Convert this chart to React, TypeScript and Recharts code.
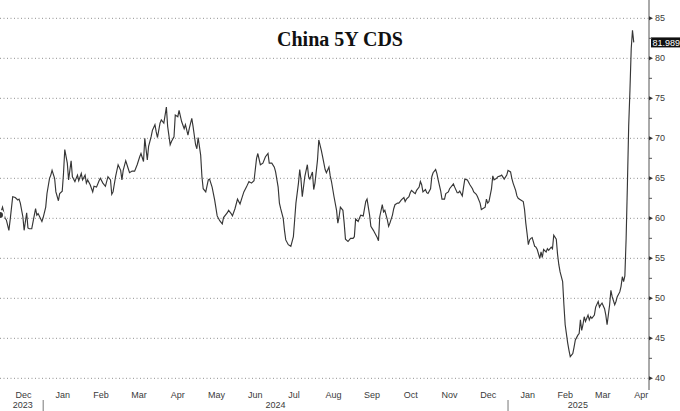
import React from "react";
import { LineChart, Line, XAxis, YAxis, CartesianGrid, ReferenceLine } from "recharts";

// days since 1 Jan 2024 (roughly one point per trading day)
const days = [
  // Dec 2023
  -34, -32, -30, -29, -27, -26, -24, -22, -20, -19, -18, -16, -15, -13, -12, -11, -9, -6, -5, -4, -1,
  // Jan 2024
  0, 2, 3, 5, 6, 7, 9, 10, 12, 13, 15, 16, 17, 19, 20, 22, 23, 25, 27, 28, 30,
  // Feb
  31, 33, 34, 35, 37, 39, 40, 42, 44, 45, 47, 49, 51, 53, 54, 55, 57, 59,
  // Mar
  61, 62, 63, 65, 67, 68, 70, 72, 74, 76, 77, 79, 80, 82, 83, 85, 86, 88, 89, 90,
  // Apr
  92, 93, 95, 97, 98, 100, 101, 103, 104, 106, 107, 109, 111, 112, 114, 115, 117, 118, 120,
  // May
  121, 122, 124, 125, 126, 128, 130, 131, 133, 135, 137, 139, 141, 142, 145, 146, 148, 149, 151,
  // Jun
  153, 155, 156, 158, 160, 162, 164, 166, 168, 169, 171, 173, 175, 177, 178, 180,
  // Jul
  182, 183, 185, 186, 187, 189, 190, 191, 193, 195, 197, 198, 199, 201, 202, 203, 204, 206, 208, 209, 210, 212,
  // Aug
  213, 214, 216, 217, 219, 220, 222, 223, 225, 226, 227, 229, 231, 232, 233, 234, 236, 237, 238, 240, 242,
  // Sep
  244, 245, 246, 248, 249, 250, 252, 253, 254, 255, 257, 258, 260, 261, 263, 264, 265, 267, 268, 269, 271, 272, 273,
  // Oct
  275, 276, 277, 279, 280, 281, 282, 284, 285, 286, 288, 289, 290, 292, 293, 294, 296, 297, 298, 299, 301, 302, 303,
  // Nov
  305, 306, 307, 309, 310, 311, 313, 314, 316, 317, 319, 320, 323, 324, 326, 327, 328, 330, 331, 332, 334,
  // Dec
  336, 338, 339, 341, 342, 344, 345, 346, 348, 349, 350, 351, 353, 354, 355, 357, 358, 360, 361, 363, 365,
  // Jan 2025
  366, 368, 369, 370, 372, 373, 374, 376, 378, 379, 380, 381, 382, 383, 384, 385, 387, 388, 389, 391, 392, 393, 394, 396,
  // Feb
  397, 398, 400, 401, 402, 404, 405, 406, 407, 409, 410, 411, 413, 414, 415, 417, 418, 419, 421, 422, 423, 424,
  // Mar
  425, 426, 427, 429, 430, 431, 432, 434, 435, 437, 438, 439, 440, 442, 443, 444, 446, 447, 448, 450, 451, 452, 454, 455,
  // Apr
  456, 457, 458, 459, 460, 461, 462, 463, 464, 465,
];

const cds = [
  60.4, 61.4, 60.0, 59.8, 58.5, 59.8, 62.7, 62.6, 62.3, 62.4, 61.9, 60.2, 58.5, 60.7, 58.8, 58.7, 58.7, 61.2, 60.4, 60.6, 59.6,
  60.1, 61.4, 63.1, 65.0, 65.4, 66.0, 65.0, 63.3, 62.2, 63.1, 63.4, 65.6, 68.6, 66.9, 64.8, 67.2, 65.2, 64.6, 65.4, 64.7, 65.6,
  64.8, 65.4, 64.4, 64.8, 64.2, 63.3, 64.0, 63.9, 64.7, 65.0, 64.4, 64.0, 65.2, 64.8, 63.0, 63.3, 65.2, 66.7,
  66.0, 64.8, 66.0, 67.2, 66.2, 65.7, 65.9, 65.9, 66.7, 67.7, 68.1, 67.1, 70.0, 67.3, 69.0, 70.2, 71.0, 71.7, 70.8, 70.1,
  71.9, 72.3, 71.9, 73.9, 71.5, 69.2, 69.6, 70.2, 72.9, 72.7, 73.5, 72.1, 71.2, 71.7, 70.4, 71.2, 72.5, 71.5, 69.2,
  68.7, 70.1, 67.9, 65.2, 63.7, 63.3, 64.8, 64.9, 63.9, 62.3, 60.3, 59.7, 59.3, 60.1, 60.7, 61.0, 60.6, 60.3, 61.2,
  62.4, 61.8, 62.3, 63.3, 63.9, 64.6, 64.4, 64.7, 67.5, 68.1, 66.7, 66.9, 67.7, 68.1, 66.9, 66.9,
  66.4, 65.8, 63.9, 61.9, 61.2, 60.0, 58.5, 57.3, 56.7, 56.5, 57.7, 59.8, 61.9, 64.4, 66.1, 64.8, 62.7, 65.2, 66.7, 65.2, 64.9, 65.8,
  63.6, 64.4, 67.3, 69.8, 68.5, 67.7, 66.1, 65.7, 66.4, 65.3, 64.6, 62.7, 61.0, 59.4, 60.2, 61.4, 61.0, 59.4, 57.4, 57.1, 57.5,
  57.5, 57.7, 59.9, 59.6, 60.0, 60.4, 60.3, 61.2, 62.1, 62.4, 60.4, 59.0, 58.5, 58.2, 57.6, 57.2, 60.2, 61.7, 60.8, 61.0, 59.8, 59.0, 59.4,
  60.4, 61.2, 61.7, 61.9, 61.9, 62.1, 62.3, 62.6, 62.1, 62.4, 62.7, 63.2, 63.5, 63.2, 63.1, 63.5, 63.9, 64.6, 64.2, 63.3, 63.6, 63.2, 63.1,
  63.7, 65.2, 65.7, 66.1, 65.6, 64.8, 63.4, 62.4, 62.4, 63.1, 63.3, 63.7, 64.3, 63.9, 63.2, 63.2, 63.4, 62.8, 63.9, 64.9, 64.8,
  64.2, 63.7, 63.3, 63.0, 62.7, 61.9, 61.1, 61.2, 61.4, 62.4, 61.9, 62.1, 63.7, 65.3, 64.8, 65.0, 65.2, 65.3, 65.4, 64.9, 65.4,
  66.0, 65.8, 65.0, 64.4, 63.5, 62.8, 62.5, 62.3, 62.1, 61.1, 59.4, 58.1, 56.7, 57.3, 57.5, 57.6, 56.5, 56.4, 56.1, 55.0, 55.8, 55.1, 56.1, 55.8,
  56.2, 56.0, 56.4, 56.2, 57.9, 57.4, 55.5, 54.2, 53.3, 52.1, 49.2, 46.7, 44.4, 43.5, 42.7, 43.1, 43.9, 44.8, 45.4, 45.6, 47.3, 46.0,
  46.7, 47.7, 47.1, 47.9, 47.3, 47.7, 47.5, 47.9, 48.9, 49.6, 48.9, 49.2, 49.4, 48.7, 47.9, 46.7, 49.2, 51.0, 50.2, 49.2, 49.6, 50.2, 50.8, 51.5,
  52.7, 52.1, 52.8, 57.5, 64.2, 71.5, 76.0, 81.2, 83.5, 81.989,
];

const monthStarts = [
  "2023-12-01", "2024-01-01", "2024-02-01", "2024-03-01", "2024-04-01", "2024-05-01", "2024-06-01",
  "2024-07-01", "2024-08-01", "2024-09-01", "2024-10-01", "2024-11-01", "2024-12-01",
  "2025-01-01", "2025-02-01", "2025-03-01", "2025-04-01", "2025-05-01",
];
const monthNames = ["Dec", "Jan", "Feb", "Mar", "Apr", "May", "Jun", "Jul", "Aug", "Sep", "Oct", "Nov", "Dec", "Jan", "Feb", "Mar", "Apr"];
const yearNames = ["2023", "2024", "2025"];
const yearLabelDates = ["2023-12-16", "2024-07-02", "2025-02-25"];
const yearBreaks = ["2024-01-01", "2025-01-01"];
const majorTicks = [40, 45, 50, 55, 60, 65, 70, 75, 80, 85];
const minorTicks = [42.5, 47.5, 52.5, 57.5, 62.5, 67.5, 72.5, 77.5, 82.5];
const lastValue = 81.989;

const dayOf = (iso: string) =>
  (Date.UTC(+iso.slice(0, 4), +iso.slice(5, 7) - 1, +iso.slice(8, 10)) - Date.UTC(2024, 0, 1)) / 86400000;

const data = days.map((d, i) => ({ d, v: cds[i] }));
const startDays = monthStarts.map(dayOf);
const gridDays = startDays.slice(0, -1);

// what to draw under the axis at each tick value
const bottomMarks = new Map<number, { month?: string; year?: string; brk?: boolean }>();
const mark = (k: number) => {
  if (!bottomMarks.has(k)) bottomMarks.set(k, {});
  return bottomMarks.get(k)!;
};
monthNames.forEach((m, i) => (mark((startDays[i] + startDays[i + 1]) / 2).month = m));
yearNames.forEach((y, i) => (mark(dayOf(yearLabelDates[i])).year = y));
yearBreaks.forEach((b) => (mark(dayOf(b)).brk = true));
const bottomTicks = [...bottomMarks.keys()].sort((a, b) => a - b);

const TEXT = "#3a3a3a";
const FONT = "'Liberation Sans', Arial, sans-serif";

function BottomTick({ x, y, payload }: any) {
  const m = bottomMarks.get(payload.value);
  if (!m) return null;
  return (
    <g>
      {m.month && (
        <text x={x} y={y + 8} textAnchor="middle" fontSize={9} fill={TEXT} fontFamily={FONT}>
          {m.month}
        </text>
      )}
      {m.year && (
        <text x={x} y={y + 18} textAnchor="middle" fontSize={9} fill={TEXT} fontFamily={FONT}>
          {m.year}
        </text>
      )}
      {m.brk && <line x1={x} x2={x} y1={y + 10} y2={y + 21} stroke="#777" />}
    </g>
  );
}

function RightTick({ x, y, payload }: any) {
  const v = payload.value;
  if (!majorTicks.includes(v)) {
    return <line x1={x} x2={x + 3} y1={y} y2={y} stroke="#555" />;
  }
  return (
    <g>
      <path d={`M${x},${y - 2} L${x + 4},${y} L${x},${y + 2} Z`} fill="#333" />
      <text x={x + 6} y={y} dy="0.35em" fontSize={9} fill={TEXT} fontFamily={FONT}>
        {v}
      </text>
    </g>
  );
}

function LastTag({ viewBox }: any) {
  const bx = viewBox.x + viewBox.width + 2;
  const by = viewBox.y;
  return (
    <g>
      <rect x={bx} y={by - 5} width={29} height={10} fill="#111" />
      <text x={bx + 1.5} y={by} dy="0.35em" fontSize={9} fill="#fff" fontFamily={FONT}>
        {lastValue.toFixed(3)}
      </text>
    </g>
  );
}

export default function App() {
  return (
    <div style={{ position: "relative", width: 680, height: 411, background: "#fff", overflow: "hidden" }}>
      <style>{`body{margin:0}`}</style>
      <LineChart width={680} height={411} data={data} margin={{ top: 0, right: 0, bottom: 0, left: 0 }}>
        <CartesianGrid
          horizontalValues={majorTicks}
          verticalValues={gridDays}
          stroke="#8f8f8f"
          strokeDasharray="1 2.5"
        />
        <XAxis
          dataKey="d"
          type="number"
          domain={[-34, 477]}
          ticks={gridDays}
          tick={false}
          tickSize={3}
          height={0}
          allowDataOverflow
          axisLine={{ stroke: "#555" }}
          tickLine={{ stroke: "#555" }}
        />
        <XAxis
          xAxisId="lbl"
          dataKey="d"
          type="number"
          domain={[-34, 477]}
          ticks={bottomTicks}
          interval={0}
          tick={<BottomTick />}
          tickSize={0}
          tickMargin={0}
          axisLine={false}
          tickLine={false}
          height={21}
          allowDataOverflow
        />
        <YAxis
          orientation="right"
          type="number"
          domain={[38.54, 87.29]}
          ticks={[...majorTicks, ...minorTicks].sort((a, b) => a - b)}
          interval={0}
          tick={<RightTick />}
          tickSize={0}
          tickMargin={0}
          tickLine={false}
          axisLine={{ stroke: "#555" }}
          width={31}
          allowDataOverflow
        />
        <ReferenceLine y={lastValue} stroke="none" label={<LastTag />} ifOverflow="visible" />
        <Line
          dataKey="v"
          type="linear"
          stroke="#363636"
          strokeWidth={1.15}
          dot={false}
          isAnimationActive={false}
        />
      </LineChart>
      <div
        style={{
          position: "absolute",
          left: 0,
          width: 680,
          top: 28,
          textAlign: "center",
          fontFamily: "'Liberation Serif', 'Times New Roman', serif",
          fontWeight: "bold",
          fontSize: 20,
          color: "#111",
          textShadow: "0 0 2px #fff, 0 0 2px #fff",
        }}
      >
        China 5Y CDS
      </div>
    </div>
  );
}
